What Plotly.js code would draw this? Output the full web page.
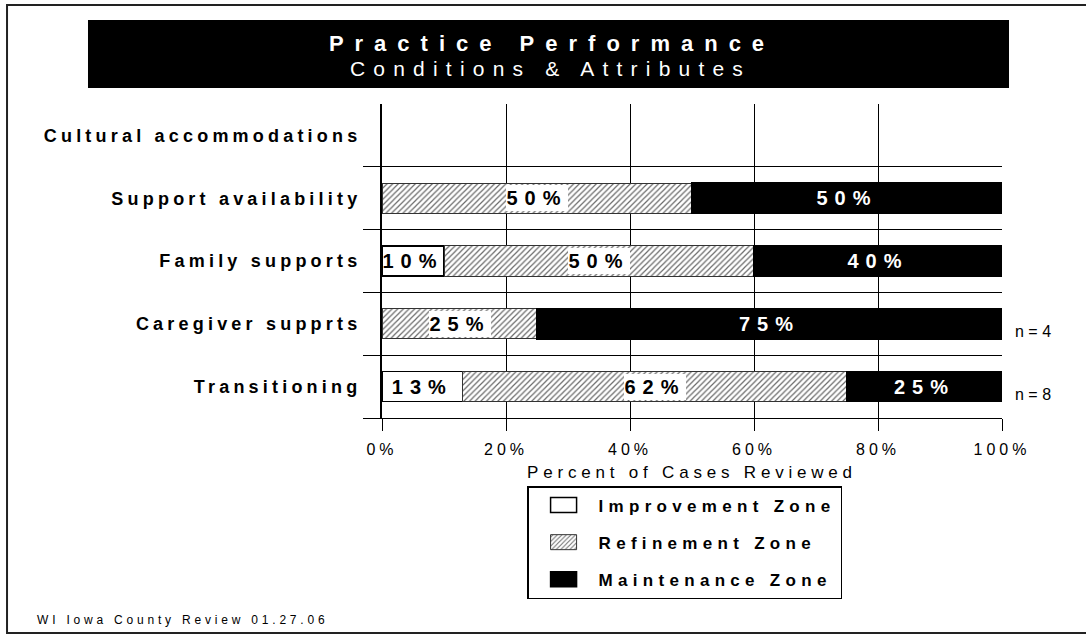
<!DOCTYPE html>
<html>
<head>
<meta charset="utf-8">
<script src="https://cdn.plot.ly/plotly-3.0.1.min.js"></script>
<style>
html,body{margin:0;padding:0;background:#fff;}
#chart{width:1086px;height:634px;}
.gtitle{letter-spacing:11px;}
.ytick text{letter-spacing:4.2px;}
.xtitle{letter-spacing:4.8px;}
.legendtext{letter-spacing:5.3px;}
.bartext{letter-spacing:7px;}
</style>
</head>
<body>
<div id="chart"></div>
<script>
// ---- data ----
const categories = ['Cultural accommodations', 'Support availability', 'Family supports', 'Caregiver supprts', 'Transitioning'];
const improvement = [null, null, 10, null, 13];
const refinement  = [null, 50, 50, 25, 62];
const maintenance = [null, 50, 40, 75, 25];
const sampleSizes = [null, null, null, 4, 8];
const xTickValues = [0, 20, 40, 60, 80, 100];
const xTickLabels = ['0%', '20%', '40%', '60%', '80%', '100%'];
const seriesNames = ['Improvement Zone', 'Refinement Zone', 'Maintenance Zone'];
const titleText = 'Practice Performance';
const subtitleText = 'Conditions &amp; Attributes';
const xTitleText = 'Percent of Cases Reviewed';
const footerText = 'WI Iowa County Review 01.27.06';

// ---- helpers ----
const FONT = '"Liberation Sans", Arial, Helvetica, sans-serif';
const pos = categories.map((c, i) => i);
const boundaries = pos.map(i => i + 0.5);
const pct = v => (v == null ? '' : v + '%');
const spaced = (t, px) => '<span style="letter-spacing:' + px + 'px">' + t + '</span>';

const barBase = {
  type: 'bar', orientation: 'h', y: pos, hoverinfo: 'skip',
  textposition: 'inside', insidetextanchor: 'middle', constraintext: 'none',
  textangle: 0, cliponaxis: false
};

const traces = [
  Object.assign({}, barBase, {
    name: seriesNames[0], legendgroup: 'g1', x: improvement, text: improvement.map(pct),
    marker: {color: '#ffffff', line: {color: '#000000', width: 1.5}},
    textfont: {family: FONT, size: 20, color: '#000000', weight: 'bold'}
  }),
  Object.assign({}, barBase, {
    name: seriesNames[1], legendgroup: 'g2', x: refinement, text: refinement.map(() => ''),
    marker: {color: '#ffffff', pattern: {shape: '/', fgcolor: '#6a6a6a', bgcolor: '#ffffff', size: 4, solidity: 0.3},
             line: {color: '#333333', width: 1}},
    textfont: {family: FONT, size: 20, color: '#000000', weight: 'bold'}
  }),
  Object.assign({}, barBase, {
    name: seriesNames[2], legendgroup: 'g3', x: maintenance, text: maintenance.map(pct),
    marker: {color: '#000000', line: {color: '#000000', width: 1.5}},
    textfont: {family: FONT, size: 20, color: '#ffffff', weight: 'bold'}
  })
];

// ---- annotations ----
const annotations = [
  {text: spaced(subtitleText, 8.2), xref: 'paper', yref: 'paper',
   x: 0.2710, y: 1.1115, xanchor: 'center', yanchor: 'middle', showarrow: false,
   font: {family: FONT, size: 21, color: '#ffffff'}},
  {text: spaced(footerText, 3.8), xref: 'paper', yref: 'paper',
   x: -0.5600, y: -0.6433, xanchor: 'left', yanchor: 'middle', showarrow: false,
   font: {family: FONT, size: 12, color: '#000000'}}
];
sampleSizes.forEach((n, i) => {
  if (n == null) return;
  annotations.push({text: 'n = ' + n, xref: 'paper', yref: 'y', x: 1, y: pos[i],
    xanchor: 'left', yanchor: 'middle', xshift: 11, yshift: -8, showarrow: false,
    font: {family: FONT, size: 16, color: '#000000'}});
});
refinement.forEach((v, i) => {
  if (v == null) return;
  const start = improvement[i] == null ? 0 : improvement[i];
  annotations.push({text: spaced(v + '%', 7), xref: 'x', yref: 'y',
    x: start + v / 2, y: pos[i], xanchor: 'center', yanchor: 'middle', showarrow: false,
    bgcolor: '#ffffff', width: 62, height: 26, borderpad: 0, borderwidth: 0,
    font: {family: FONT, size: 20, color: '#000000', weight: 'bold'}});
});

const layout = {
  width: 1086, height: 634,
  margin: {l: 382, r: 84, t: 104, b: 216},
  paper_bgcolor: '#ffffff', plot_bgcolor: '#ffffff',
  barmode: 'stack', bargap: 0.52,
  font: {family: FONT, color: '#000000'},
  title: {text: titleText, xref: 'container', yref: 'container', x: 552 / 1086, y: 1 - 43 / 634,
          xanchor: 'center', yanchor: 'middle',
          font: {family: FONT, size: 22, color: '#ffffff', weight: 'bold'}},
  xaxis: {
    range: [0, 100], tickvals: xTickValues, ticktext: xTickLabels.map(t => spaced(t, 4)),
    showgrid: true, gridcolor: '#000000', gridwidth: 1, zeroline: false,
    showline: true, linecolor: '#000000', linewidth: 1,
    ticks: 'outside', ticklen: 12, tickcolor: '#000000', tickwidth: 1, ticklabelstandoff: 5,
    tickfont: {family: FONT, size: 16, color: '#000000'},
    title: {text: xTitleText, font: {family: FONT, size: 17, color: '#000000'}, standoff: 8},
    fixedrange: true
  },
  yaxis: {
    type: 'linear', range: [4.5, -0.5], tickvals: pos, ticktext: categories,
    ticks: '', showgrid: false, zeroline: false, ticklabelstandoff: 15,
    showline: true, linecolor: '#000000', linewidth: 2,
    tickfont: {family: FONT, size: 18, color: '#000000', weight: 'bold'},
    minor: {tickvals: boundaries, ticks: 'outside', ticklen: 17, tickcolor: '#000000', tickwidth: 1,
            showgrid: true, gridcolor: '#000000', gridwidth: 1},
    fixedrange: true
  },
  legend: {
    x: 0.234, y: -0.2166, xanchor: 'left', yanchor: 'top',
    bgcolor: '#ffffff', bordercolor: '#000000', borderwidth: 1.5,
    font: {family: FONT, size: 17, color: '#000000', weight: 'bold'},
    traceorder: 'grouped', tracegroupgap: 12, itemwidth: 60, valign: 'middle'
  },
  annotations: annotations,
  shapes: [
    {type: 'rect', xref: 'paper', yref: 'paper', x0: -0.4742, x1: 1.0113, y0: 1.0510, y1: 1.2675,
     fillcolor: '#000000', line: {width: 0}, layer: 'below'},
    {type: 'rect', xref: 'paper', yref: 'paper', x0: -0.6048, x1: 1.15, y0: -0.6847, y1: 1.3153,
     fillcolor: 'rgba(0,0,0,0)', line: {color: '#222222', width: 2}, layer: 'below'}
  ]
};

Plotly.newPlot('chart', traces, layout, {displayModeBar: false, staticPlot: true}).then(function () {
  document.querySelectorAll('.legend .legendpoints path').forEach(function (p) {
    p.setAttribute('d', 'M13,7.5H-13V-7.5H13Z');
  });
});
</script>
</body>
</html>
